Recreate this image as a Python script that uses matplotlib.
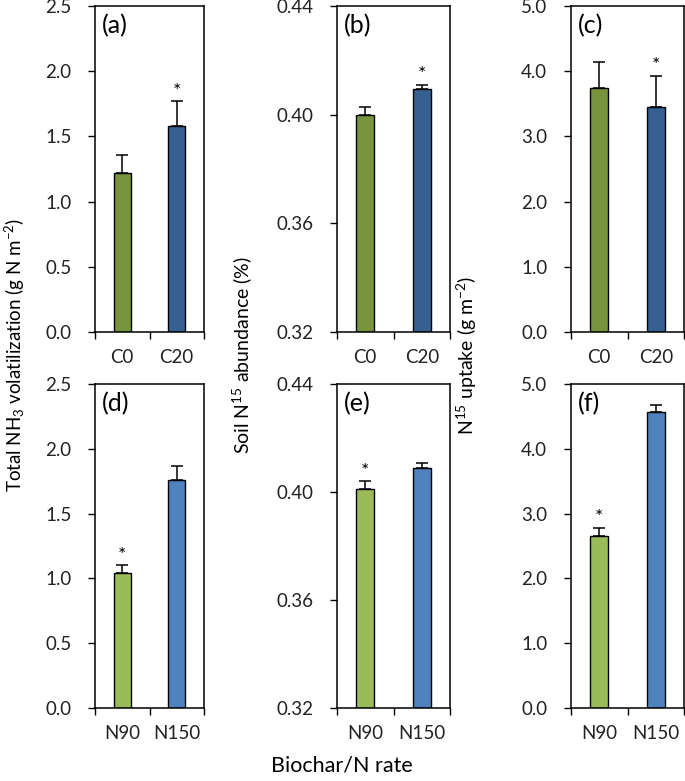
import numpy as np
import matplotlib
matplotlib.use("Agg")
import matplotlib.pyplot as plt
from matplotlib.ticker import FormatStrFormatter

plt.rcParams['font.family'] = ['Lato', 'DejaVu Sans']
plt.rcParams['mathtext.fontset'] = 'custom'
plt.rcParams['mathtext.rm'] = 'Lato'
plt.rcParams['mathtext.it'] = 'Lato:italic'

# === Datos ===
cats_top = ["C0", "C20"]
cats_bot = ["N90", "N150"]

nh3_top = [1.22, 1.58]
nh3_top_err = [0.14, 0.19]
nh3_bot = [1.04, 1.76]
nh3_bot_err = [0.06, 0.11]

soil_top = [0.400, 0.4095]
soil_top_err = [0.0028, 0.0015]
soil_bot = [0.4010, 0.4089]
soil_bot_err = [0.0031, 0.0017]

upt_top = [3.75, 3.45]
upt_top_err = [0.39, 0.48]
upt_bot = [2.65, 4.57]
upt_bot_err = [0.13, 0.11]

# asteriscos (índice de la barra significativa)
star_top = [1, 1, 1]
star_bot = [0, 0, 0]

col_top = ["#77933C", "#376092"]
col_bot = ["#9BBB59", "#4F81BD"]

W, H = 685, 781
fig = plt.figure(figsize=(W / 100, H / 100), dpi=100)

# posiciones en píxeles (izq, der) y (arriba, abajo)
cols_px = [(95, 204), (337, 450), (571, 684)]
rows_px = [(6, 332), (384, 708)]

def px_axes(c, r):
    x0, x1 = cols_px[c]
    y0, y1 = rows_px[r]
    return fig.add_axes([x0 / W, 1 - y1 / H, (x1 - x0) / W, (y1 - y0) / H])

paneles = [
    # (col, fila, cats, vals, errs, colores, ylim, yticks, fmt, letra, star)
    (0, 0, cats_top, nh3_top, nh3_top_err, col_top, (0, 2.5), np.arange(0, 2.51, 0.5), "%.1f", "(a)", star_top[0]),
    (1, 0, cats_top, soil_top, soil_top_err, col_top, (0.32, 0.44), [0.32, 0.36, 0.40, 0.44], "%.2f", "(b)", star_top[1]),
    (2, 0, cats_top, upt_top, upt_top_err, col_top, (0, 5), np.arange(0, 5.01, 1.0), "%.1f", "(c)", star_top[2]),
    (0, 1, cats_bot, nh3_bot, nh3_bot_err, col_bot, (0, 2.5), np.arange(0, 2.51, 0.5), "%.1f", "(d)", star_bot[0]),
    (1, 1, cats_bot, soil_bot, soil_bot_err, col_bot, (0.32, 0.44), [0.32, 0.36, 0.40, 0.44], "%.2f", "(e)", star_bot[1]),
    (2, 1, cats_bot, upt_bot, upt_bot_err, col_bot, (0, 5), np.arange(0, 5.01, 1.0), "%.1f", "(f)", star_bot[2]),
]

for c, r, cats, vals, errs, cols, ylim, yt, fmt, letra, st in paneles:
    ax = px_axes(c, r)
    x = np.arange(len(cats))
    base = ylim[0]
    heights = [v - base for v in vals]
    ax.bar(x, heights, bottom=base, width=0.31, color=cols,
           edgecolor="black", linewidth=1.0, zorder=2)
    ax.errorbar(x, vals, yerr=[[0] * len(errs), errs], fmt="none",
                ecolor="black", elinewidth=1.1, capsize=4, capthick=1.1, zorder=3)
    ax.annotate("*", xy=(x[st], vals[st] + errs[st]), xytext=(0, 1),
                textcoords="offset points", ha="center", va="bottom", fontsize=14)
    ax.set_xlim(-0.5, 1.5)
    ax.set_ylim(*ylim)
    ax.set_yticks(yt)
    ax.yaxis.set_major_formatter(FormatStrFormatter(fmt))
    ax.set_xticks([-0.5, 0.5, 1.5])
    ax.set_xticklabels([])
    ax.set_xticks(x, minor=True)
    ax.set_xticklabels(cats, minor=True)
    ax.tick_params(axis="x", which="major", direction="out", length=5, width=1.0)
    ax.tick_params(axis="x", which="minor", length=0, pad=12, labelsize=13.5, labelcolor="#222222")
    ax.tick_params(axis="y", direction="out", length=5, width=1.0, pad=12,
                   labelsize=13.5, labelcolor="#222222")
    for s in ax.spines.values():
        s.set_linewidth(1.1)
    ax.annotate(letra, xy=(0, 1), xycoords="axes fraction", xytext=(5, -6),
                textcoords="offset points", ha="left", va="top", fontsize=18)

# etiquetas de ejes
yc = 1 - 355 / H
fig.text(15 / W, yc, r"Total NH$_3$ volatilization (g N m$^{-2}$)", rotation=90,
         ha="center", va="center", fontsize=13.5)
fig.text(242 / W, yc, r"Soil N$^{15}$ abundance (%)", rotation=90,
         ha="center", va="center", fontsize=14)
fig.text(467 / W, yc, r"N$^{15}$ uptake (g m$^{-2}$)", rotation=90,
         ha="center", va="center", fontsize=14)
fig.text(342 / W, 1 - 766 / H, "Biochar/N rate", ha="center", va="center", fontsize=15.5)

fig.savefig("out.png", dpi=100)
